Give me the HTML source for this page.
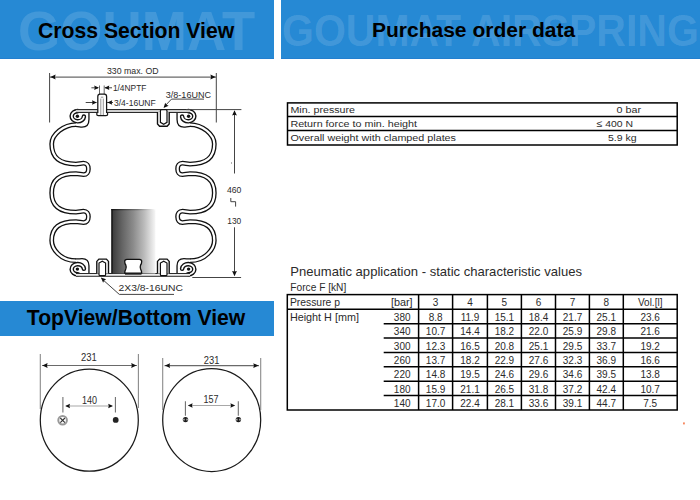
<!DOCTYPE html>
<html>
<head>
<meta charset="utf-8">
<style>
html,body{margin:0;padding:0;background:#fff;}
body{width:700px;height:500px;position:relative;overflow:hidden;font-family:"Liberation Sans",sans-serif;}
.ban{position:absolute;background:#2689d4;overflow:hidden;}
.wm{position:absolute;font-weight:bold;color:rgba(255,255,255,0.135);white-space:nowrap;line-height:1;transform-origin:0 0;}
.ttl{position:absolute;font-weight:bold;color:#000;white-space:nowrap;line-height:1;}
svg{position:absolute;left:0;top:0;}
svg text{font-family:"Liberation Sans",sans-serif;}
</style>
</head>
<body>
<div class="ban" style="left:0;top:0;width:274px;height:58px;border-bottom:1px solid #237fcf;">
  <div class="wm" style="left:18px;top:4px;font-size:54.3px;transform:scale(1,1.03);">GOUMAT</div>
  <div class="ttl" style="left:38px;top:20px;font-size:21.2px;">Cross Section View</div>
</div>
<div class="ban" style="left:281px;top:0;width:419px;height:58px;border-bottom:1px solid #237fcf;">
  <div class="wm" style="left:1px;top:9px;font-size:41px;transform:scale(1,1.09);">GOUMAT AIRSPRING</div>
  <div class="ttl" style="left:91px;top:19px;font-size:21px;">Purchase order data</div>
</div>
<div class="ban" style="left:0;top:301px;width:274px;height:35px;">
  <div class="ttl" style="left:26.8px;top:6.3px;font-size:21.15px;">TopView/Bottom View</div>
</div>
<svg width="700" height="500" viewBox="0 0 700 500">
<path d="M 76 124.6 C 63.85 124.60, 51.7 134.35, 51.7 144.10 C 51.7 157.70, 59.48 164.10, 76.0 164.10 C 79 164.00, 81 163.20, 83.5 163.20 C 86.8 163.20, 88.4 165.70, 88.4 168.90 C 88.4 172.10, 86.8 174.60, 83.5 174.60 C 81 174.60, 79 173.80, 76.0 173.70 C 59.48 173.70, 51.7 179.84, 51.7 192.88 C 51.7 205.91, 59.48 212.05, 76.0 212.05 C 79 211.95, 81 211.15, 83.5 211.15 C 86.8 211.15, 88.4 213.65, 88.4 216.85 C 88.4 220.05, 86.8 222.55, 83.5 222.55 C 81 222.55, 79 221.75, 76.0 221.65 C 59.48 221.65, 51.7 227.65, 51.7 240.40 C 51.7 248.52, 60.20 260.70, 76.0 260.70 " fill="none" stroke="#111" stroke-width="4.8"/><path d="M 76 124.6 C 63.85 124.60, 51.7 134.35, 51.7 144.10 C 51.7 157.70, 59.48 164.10, 76.0 164.10 C 79 164.00, 81 163.20, 83.5 163.20 C 86.8 163.20, 88.4 165.70, 88.4 168.90 C 88.4 172.10, 86.8 174.60, 83.5 174.60 C 81 174.60, 79 173.80, 76.0 173.70 C 59.48 173.70, 51.7 179.84, 51.7 192.88 C 51.7 205.91, 59.48 212.05, 76.0 212.05 C 79 211.95, 81 211.15, 83.5 211.15 C 86.8 211.15, 88.4 213.65, 88.4 216.85 C 88.4 220.05, 86.8 222.55, 83.5 222.55 C 81 222.55, 79 221.75, 76.0 221.65 C 59.48 221.65, 51.7 227.65, 51.7 240.40 C 51.7 248.52, 60.20 260.70, 76.0 260.70 " fill="none" stroke="#fff" stroke-width="2.2"/><path d="M 75.5 126.35 C 78.5 126.35, 80 127.2, 82 127.2 C 86.5 127.2, 88.95 124.5, 88.95 119.5 L 88.95 112" fill="none" stroke="#111" stroke-width="1.3"/><path d="M 75.5 258.95 C 78.5 258.95, 80 258.7, 82 258.7 C 86.5 258.7, 88.95 260.8, 88.95 265.8 L 88.95 274" fill="none" stroke="#111" stroke-width="1.3"/><path d="M 77.8 111.10000000000001 A 6.1 5.1 0 1 0 83.88 116.64" fill="none" stroke="#111" stroke-width="4.6" stroke-linecap="round"/><path d="M 77.8 111.10000000000001 A 6.1 5.1 0 1 0 83.88 116.64" fill="none" stroke="#fff" stroke-width="1.8" stroke-linecap="round"/><circle cx="77.4" cy="116.3" r="1.7" fill="#111"/><g transform="translate(0,385.4) scale(1,-1)"><path d="M 77.8 111.10000000000001 A 6.1 5.1 0 1 0 83.88 116.64" fill="none" stroke="#111" stroke-width="4.6" stroke-linecap="round"/><path d="M 77.8 111.10000000000001 A 6.1 5.1 0 1 0 83.88 116.64" fill="none" stroke="#fff" stroke-width="1.8" stroke-linecap="round"/><circle cx="77.4" cy="116.3" r="1.7" fill="#111"/></g>
<g transform="translate(266.0,0) scale(-1,1)"><path d="M 76 124.6 C 63.85 124.60, 51.7 134.35, 51.7 144.10 C 51.7 157.70, 59.48 164.10, 76.0 164.10 C 79 164.00, 81 163.20, 83.5 163.20 C 86.8 163.20, 88.4 165.70, 88.4 168.90 C 88.4 172.10, 86.8 174.60, 83.5 174.60 C 81 174.60, 79 173.80, 76.0 173.70 C 59.48 173.70, 51.7 179.84, 51.7 192.88 C 51.7 205.91, 59.48 212.05, 76.0 212.05 C 79 211.95, 81 211.15, 83.5 211.15 C 86.8 211.15, 88.4 213.65, 88.4 216.85 C 88.4 220.05, 86.8 222.55, 83.5 222.55 C 81 222.55, 79 221.75, 76.0 221.65 C 59.48 221.65, 51.7 227.65, 51.7 240.40 C 51.7 248.52, 60.20 260.70, 76.0 260.70 " fill="none" stroke="#111" stroke-width="4.8"/><path d="M 76 124.6 C 63.85 124.60, 51.7 134.35, 51.7 144.10 C 51.7 157.70, 59.48 164.10, 76.0 164.10 C 79 164.00, 81 163.20, 83.5 163.20 C 86.8 163.20, 88.4 165.70, 88.4 168.90 C 88.4 172.10, 86.8 174.60, 83.5 174.60 C 81 174.60, 79 173.80, 76.0 173.70 C 59.48 173.70, 51.7 179.84, 51.7 192.88 C 51.7 205.91, 59.48 212.05, 76.0 212.05 C 79 211.95, 81 211.15, 83.5 211.15 C 86.8 211.15, 88.4 213.65, 88.4 216.85 C 88.4 220.05, 86.8 222.55, 83.5 222.55 C 81 222.55, 79 221.75, 76.0 221.65 C 59.48 221.65, 51.7 227.65, 51.7 240.40 C 51.7 248.52, 60.20 260.70, 76.0 260.70 " fill="none" stroke="#fff" stroke-width="2.2"/><path d="M 75.5 126.35 C 78.5 126.35, 80 127.2, 82 127.2 C 86.5 127.2, 88.95 124.5, 88.95 119.5 L 88.95 112" fill="none" stroke="#111" stroke-width="1.3"/><path d="M 75.5 258.95 C 78.5 258.95, 80 258.7, 82 258.7 C 86.5 258.7, 88.95 260.8, 88.95 265.8 L 88.95 274" fill="none" stroke="#111" stroke-width="1.3"/><path d="M 77.8 111.10000000000001 A 6.1 5.1 0 1 0 83.88 116.64" fill="none" stroke="#111" stroke-width="4.6" stroke-linecap="round"/><path d="M 77.8 111.10000000000001 A 6.1 5.1 0 1 0 83.88 116.64" fill="none" stroke="#fff" stroke-width="1.8" stroke-linecap="round"/><circle cx="77.4" cy="116.3" r="1.7" fill="#111"/><g transform="translate(0,385.4) scale(1,-1)"><path d="M 77.8 111.10000000000001 A 6.1 5.1 0 1 0 83.88 116.64" fill="none" stroke="#111" stroke-width="4.6" stroke-linecap="round"/><path d="M 77.8 111.10000000000001 A 6.1 5.1 0 1 0 83.88 116.64" fill="none" stroke="#fff" stroke-width="1.8" stroke-linecap="round"/><circle cx="77.4" cy="116.3" r="1.7" fill="#111"/></g></g>
<rect x="76" y="109.5" width="114" height="3.0" fill="#cfcfcf"/><line x1="76" y1="109.5" x2="190" y2="109.5" stroke="#2a2a2a" stroke-width="1"/><line x1="76" y1="112.5" x2="190" y2="112.5" stroke="#2a2a2a" stroke-width="1"/>
<rect x="76" y="273.5" width="114" height="2.8000000000000114" fill="#ececec"/><line x1="76" y1="273.5" x2="190" y2="273.5" stroke="#2a2a2a" stroke-width="1"/><line x1="76" y1="276.3" x2="190" y2="276.3" stroke="#2a2a2a" stroke-width="1"/>
<defs><linearGradient id="pg" x1="0" x2="1" y1="0" y2="0"><stop offset="0" stop-color="#383838"/><stop offset="0.25" stop-color="#656565"/><stop offset="0.5" stop-color="#8c8c8c"/><stop offset="0.75" stop-color="#bcbcbc"/><stop offset="1" stop-color="#f6f6f6"/></linearGradient><linearGradient id="pt" x1="0" x2="1" y1="0" y2="0"><stop offset="0" stop-color="#111"/><stop offset="0.6" stop-color="#777"/><stop offset="1" stop-color="#fff"/></linearGradient></defs>
<rect x="111.4" y="209" width="44" height="64.5" fill="url(#pg)"/>
<rect x="111.4" y="209" width="44" height="1.3" fill="url(#pt)"/>
<rect x="111.4" y="209" width="1.3" height="64.5" fill="#151515"/>
<path d="M 127 259.3 L 139.5 259.3 Q 141.7 259.3 141.7 261.5 Q 141.7 263.5 140.6 265 Q 139.8 267 140.6 269 Q 141.7 271 141.7 273.2 L 124.7 273.2 Q 124.7 271 125.8 269 Q 126.6 267 125.8 265 Q 124.7 263.5 124.7 261.5 Q 124.7 259.3 127 259.3 Z" fill="#fff" stroke="#111" stroke-width="1.3"/>
<line x1="125" y1="274" x2="141.5" y2="274" stroke="#111" stroke-width="1.3"/>
<path d="M 157.5 112 L 157.5 124 L 159.6 126.3 L 167.1 126.3 L 169.2 124 L 169.2 112" fill="#fff" stroke="#111" stroke-width="1.4"/><path d="M 160.4 111 Q 160.4 109.7 161.6 109.7 L 165.8 109.7 Q 167 109.7 167 111 L 167 122.3 L 163.7 124.2 L 160.4 122.3 Z" fill="#fff" stroke="#111" stroke-width="1.2"/>
<g transform="translate(0,385.4) scale(1,-1)"><path d="M 157.5 112 L 157.5 124 L 159.6 126.3 L 167.1 126.3 L 169.2 124 L 169.2 112" fill="#fff" stroke="#111" stroke-width="1.4"/><path d="M 160.4 111 Q 160.4 109.7 161.6 109.7 L 165.8 109.7 Q 167 109.7 167 111 L 167 122.3 L 163.7 124.2 L 160.4 122.3 Z" fill="#fff" stroke="#111" stroke-width="1.2"/></g>
<g transform="translate(266.0,0) scale(-1,1)"><g transform="translate(0,385.4) scale(1,-1)"><path d="M 157.5 112 L 157.5 124 L 159.6 126.3 L 167.1 126.3 L 169.2 124 L 169.2 112" fill="#fff" stroke="#111" stroke-width="1.4"/><path d="M 160.4 111 Q 160.4 109.7 161.6 109.7 L 165.8 109.7 Q 167 109.7 167 111 L 167 122.3 L 163.7 124.2 L 160.4 122.3 Z" fill="#fff" stroke="#111" stroke-width="1.2"/></g></g>
<line x1="99.5" y1="85.5" x2="99.5" y2="95" stroke="#666" stroke-width="1"/>
<line x1="104.2" y1="85.5" x2="104.2" y2="95" stroke="#666" stroke-width="1"/>
<path d="M 97.8 112.5 L 97.8 96.5 Q 97.8 94.2 100 94.2 L 104.4 94.2 Q 106.6 94.2 106.6 96.5 L 106.6 112.5 Q 107.7 112.8 107.7 114 Q 107.7 115.6 106 115.6 L 98.4 115.6 Q 96.7 115.6 96.7 114 Q 96.7 112.8 97.8 112.5 Z" fill="#fff" stroke="#151515" stroke-width="1.25"/>
<path d="M 100.8 115 L 100.8 98.6 M 103.3 115 L 103.3 98.6 M 100.8 97.2 L 103.3 97.2" fill="none" stroke="#888" stroke-width="0.9"/>
<g stroke="#444" stroke-width="1" fill="none"><line x1="49.6" y1="73" x2="49.6" y2="122.5"/><line x1="216.3" y1="73" x2="216.3" y2="122.5"/><line x1="50" y1="77.1" x2="216" y2="77.1"/><line x1="186" y1="109.6" x2="241.4" y2="109.6"/><line x1="192.3" y1="277.5" x2="241.1" y2="277.5"/><line x1="234.5" y1="111" x2="234.5" y2="173.5"/><line x1="234.5" y1="227.3" x2="234.5" y2="275"/><path d="M 230.8 198 L 230.8 201.7 L 235.6 201.7 L 235.6 206.6"/><line x1="91.4" y1="87.8" x2="98" y2="87.8"/><line x1="105" y1="87.8" x2="112" y2="87.8"/><line x1="85.7" y1="102.5" x2="96.5" y2="102.5"/><line x1="107" y1="102.5" x2="113" y2="102.5"/><path d="M 204 99.1 L 171.5 99.1 L 164 107"/><path d="M 174 294.4 L 119.3 294.4 L 101.5 278.5"/></g><path d="M 50.40 77.00 L 55.60 74.60 L 54.98 77.00 L 55.60 79.40 Z" fill="#111"/><path d="M 215.60 77.00 L 210.40 79.40 L 211.02 77.00 L 210.40 74.60 Z" fill="#111"/><path d="M 234.50 110.20 L 236.90 115.40 L 234.50 114.78 L 232.10 115.40 Z" fill="#111"/><path d="M 234.50 276.20 L 232.10 271.00 L 234.50 271.62 L 236.90 271.00 Z" fill="#111"/><path d="M 99.00 87.80 L 94.20 90.00 L 94.78 87.80 L 94.20 85.60 Z" fill="#111"/><path d="M 104.50 87.80 L 109.30 85.60 L 108.72 87.80 L 109.30 90.00 Z" fill="#111"/><path d="M 96.80 102.50 L 92.00 104.70 L 92.58 102.50 L 92.00 100.30 Z" fill="#111"/><path d="M 107.40 102.50 L 112.20 100.30 L 111.62 102.50 L 112.20 104.70 Z" fill="#111"/><path d="M 163.60 108.00 L 165.18 102.73 L 166.50 104.70 L 168.62 105.77 Z" fill="#111"/><path d="M 100.90 277.60 L 106.17 279.18 L 104.20 280.50 L 103.13 282.63 Z" fill="#111"/>
<text x="106.9" y="74.3" font-size="9" textLength="51.7" lengthAdjust="spacingAndGlyphs" fill="#2b2b2b">330 max. OD</text>
<text x="112.9" y="91.0" font-size="9" textLength="33.5" lengthAdjust="spacingAndGlyphs" fill="#2b2b2b">1/4NPTF</text>
<text x="114.0" y="106.0" font-size="9" textLength="41.7" lengthAdjust="spacingAndGlyphs" fill="#2b2b2b">3/4-16UNF</text>
<text x="165.8" y="97.5" font-size="9" textLength="45.2" lengthAdjust="spacingAndGlyphs" fill="#2b2b2b">3/8-16UNC</text>
<text x="118.6" y="291.1" font-size="9.6" textLength="64.3" lengthAdjust="spacingAndGlyphs" fill="#2b2b2b">2X3/8-16UNC</text>
<text x="227.0" y="193.2" font-size="9.8" textLength="14.4" lengthAdjust="spacingAndGlyphs" fill="#2b2b2b">460</text>
<text x="227.3" y="224.0" font-size="9.8" textLength="14.0" lengthAdjust="spacingAndGlyphs" fill="#2b2b2b">130</text>
<rect x="231" y="162" width="1" height="2" fill="#b0b0b0"/>
<ellipse cx="89.3" cy="420.2" rx="49" ry="51" fill="none" stroke="#1a1a1a" stroke-width="1.25"/>
<ellipse cx="211.7" cy="420.0" rx="49" ry="51.5" fill="none" stroke="#1a1a1a" stroke-width="1.25"/>
<g stroke="#8a8a8a" stroke-width="1.1" fill="none">
<line x1="40.3" y1="354" x2="40.3" y2="409"/>
<line x1="138.4" y1="354" x2="138.4" y2="408"/>
<line x1="162.7" y1="358" x2="162.7" y2="410"/>
<line x1="260.7" y1="358" x2="260.7" y2="410"/>
</g>
<g stroke="#6a6a6a" stroke-width="1.05" fill="none">
<line x1="42" y1="365.5" x2="137" y2="365.5"/>
<line x1="164.5" y1="365.6" x2="259" y2="365.6"/>
<line x1="62.9" y1="397" x2="62.9" y2="412.4"/>
<line x1="115.4" y1="397" x2="115.4" y2="412.4"/>
<line x1="185.4" y1="401.3" x2="185.4" y2="415.7"/>
<line x1="238.3" y1="401.3" x2="238.3" y2="415.7"/>
</g>
<g stroke="#a8a8a8" stroke-width="1.2" fill="none">
<line x1="66" y1="406.0" x2="112" y2="406.0"/>
<line x1="189" y1="405.5" x2="234" y2="405.5"/>
</g>
<path d="M 42.40 365.50 L 47.60 363.10 L 46.98 365.50 L 47.60 367.90 Z" fill="#111"/>
<path d="M 136.40 365.50 L 131.20 367.90 L 131.82 365.50 L 131.20 363.10 Z" fill="#111"/>
<path d="M 164.90 365.60 L 170.10 363.20 L 169.48 365.60 L 170.10 368.00 Z" fill="#111"/>
<path d="M 258.50 365.60 L 253.30 368.00 L 253.92 365.60 L 253.30 363.20 Z" fill="#111"/>
<path d="M 65.20 406.00 L 70.00 403.80 L 69.42 406.00 L 70.00 408.20 Z" fill="#111"/>
<path d="M 113.00 406.00 L 108.20 408.20 L 108.78 406.00 L 108.20 403.80 Z" fill="#111"/>
<path d="M 187.80 405.50 L 192.60 403.30 L 192.02 405.50 L 192.60 407.70 Z" fill="#111"/>
<path d="M 235.20 405.50 L 230.40 407.70 L 230.98 405.50 L 230.40 403.30 Z" fill="#111"/>
<text x="81.0" y="361.4" font-size="10.3" textLength="15.8" lengthAdjust="spacingAndGlyphs" fill="#2b2b2b">231</text>
<text x="203.8" y="364.2" font-size="10.3" textLength="15.6" lengthAdjust="spacingAndGlyphs" fill="#2b2b2b">231</text>
<text x="82.0" y="403.5" font-size="10.3" textLength="15.0" lengthAdjust="spacingAndGlyphs" fill="#2b2b2b">140</text>
<text x="203.4" y="402.8" font-size="10.3" textLength="15.0" lengthAdjust="spacingAndGlyphs" fill="#2b2b2b">157</text>
<circle cx="62.6" cy="420.3" r="4.3" fill="#fff" stroke="#999" stroke-width="2"/>
<path d="M 60.3 418.0 L 64.9 422.6 M 64.9 418.0 L 60.3 422.6" stroke="#333" stroke-width="1.1"/>
<circle cx="115.7" cy="419.9" r="2.9" fill="#222"/>
<circle cx="185.5" cy="419.6" r="2.7" fill="#1a1a1a"/><rect x="183.3" y="418.7" width="1.3" height="1.8" fill="#ccc"/><rect x="186.4" y="418.7" width="1.3" height="1.8" fill="#ccc"/>
<circle cx="238.4" cy="419.6" r="2.7" fill="#1a1a1a"/><rect x="236.2" y="418.7" width="1.3" height="1.8" fill="#ccc"/><rect x="239.3" y="418.7" width="1.3" height="1.8" fill="#ccc"/>
<rect x="683.3" y="422.4" width="1.3" height="2" fill="#f2561d"/>
<g stroke="#000" stroke-width="1.5" fill="none">
<rect x="287.5" y="102.9" width="389.7" height="42.1"/>
<line x1="287.5" y1="116.4" x2="677.2" y2="116.4"/>
<line x1="287.5" y1="130.6" x2="677.2" y2="130.6"/>
</g>
<text x="290.4" y="112.9" font-size="9.7" textLength="64.6" lengthAdjust="spacingAndGlyphs" fill="#2b2b2b">Min. pressure</text>
<text x="290.4" y="127.0" font-size="9.7" textLength="126.6" lengthAdjust="spacingAndGlyphs" fill="#2b2b2b">Return force to min. height</text>
<text x="290.4" y="141.2" font-size="9.7" textLength="165.6" lengthAdjust="spacingAndGlyphs" fill="#2b2b2b">Overall weight with clamped plates</text>
<text x="616.6" y="112.9" font-size="9.7" textLength="24.4" lengthAdjust="spacingAndGlyphs" fill="#2b2b2b">0 bar</text>
<text x="596.6" y="127.0" font-size="9.7" textLength="36.4" lengthAdjust="spacingAndGlyphs" fill="#2b2b2b">&#8804; 400 N</text>
<text x="608.0" y="141.2" font-size="9.7" textLength="28.6" lengthAdjust="spacingAndGlyphs" fill="#2b2b2b">5.9 kg</text>
<text x="290.3" y="276.0" font-size="13" textLength="291.7" lengthAdjust="spacingAndGlyphs" fill="#2b2b2b">Pneumatic application - static characteristic values</text>
<text x="290.3" y="291.3" font-size="10.6" textLength="56" lengthAdjust="spacingAndGlyphs" fill="#2b2b2b">Force F [kN]</text>
<g stroke="#000" stroke-width="1.5" fill="none">
<rect x="287.3" y="294.6" width="389.90000000000003" height="115.39999999999998"/>
<line x1="287.3" y1="309.2" x2="677.2" y2="309.2"/>
<line x1="383.7" y1="323.7" x2="677.2" y2="323.7"/>
<line x1="383.7" y1="338.1" x2="677.2" y2="338.1"/>
<line x1="383.7" y1="352.4" x2="677.2" y2="352.4"/>
<line x1="383.7" y1="366.8" x2="677.2" y2="366.8"/>
<line x1="383.7" y1="381.3" x2="677.2" y2="381.3"/>
<line x1="383.7" y1="395.5" x2="677.2" y2="395.5"/>
<line x1="418.6" y1="294.6" x2="418.6" y2="410.0"/>
<line x1="452.6" y1="294.6" x2="452.6" y2="410.0"/>
<line x1="487.4" y1="294.6" x2="487.4" y2="410.0"/>
<line x1="521.4" y1="294.6" x2="521.4" y2="410.0"/>
<line x1="555.5" y1="294.6" x2="555.5" y2="410.0"/>
<line x1="589.4" y1="294.6" x2="589.4" y2="410.0"/>
<line x1="623.3" y1="294.6" x2="623.3" y2="410.0"/>
</g>
<text x="289.9" y="305.9" font-size="10.3" textLength="50.1" lengthAdjust="spacingAndGlyphs" fill="#2b2b2b">Pressure p</text>
<text x="390.9" y="305.9" font-size="10.3" textLength="21.7" lengthAdjust="spacingAndGlyphs" fill="#2b2b2b">[bar]</text>
<text x="435.6" y="306.3" font-size="10" text-anchor="middle" fill="#2b2b2b">3</text>
<text x="470.0" y="306.3" font-size="10" text-anchor="middle" fill="#2b2b2b">4</text>
<text x="504.4" y="306.3" font-size="10" text-anchor="middle" fill="#2b2b2b">5</text>
<text x="538.5" y="306.3" font-size="10" text-anchor="middle" fill="#2b2b2b">6</text>
<text x="572.5" y="306.3" font-size="10" text-anchor="middle" fill="#2b2b2b">7</text>
<text x="606.3" y="306.3" font-size="10" text-anchor="middle" fill="#2b2b2b">8</text>
<text x="650.2" y="306.3" font-size="10" text-anchor="middle" fill="#2b2b2b">Vol.[l]</text>
<text x="289.9" y="321.0" font-size="10.3" textLength="69" lengthAdjust="spacingAndGlyphs" fill="#2b2b2b">Height H [mm]</text>
<text x="402.2" y="320.8" font-size="10" text-anchor="middle" fill="#2b2b2b">380</text>
<text x="435.6" y="320.8" font-size="10" text-anchor="middle" fill="#2b2b2b">8.8</text>
<text x="470.0" y="320.8" font-size="10" text-anchor="middle" fill="#2b2b2b">11.9</text>
<text x="504.4" y="320.8" font-size="10" text-anchor="middle" fill="#2b2b2b">15.1</text>
<text x="538.5" y="320.8" font-size="10" text-anchor="middle" fill="#2b2b2b">18.4</text>
<text x="572.5" y="320.8" font-size="10" text-anchor="middle" fill="#2b2b2b">21.7</text>
<text x="606.3" y="320.8" font-size="10" text-anchor="middle" fill="#2b2b2b">25.1</text>
<text x="650.2" y="320.8" font-size="10" text-anchor="middle" fill="#2b2b2b">23.6</text>
<text x="402.2" y="335.3" font-size="10" text-anchor="middle" fill="#2b2b2b">340</text>
<text x="435.6" y="335.3" font-size="10" text-anchor="middle" fill="#2b2b2b">10.7</text>
<text x="470.0" y="335.3" font-size="10" text-anchor="middle" fill="#2b2b2b">14.4</text>
<text x="504.4" y="335.3" font-size="10" text-anchor="middle" fill="#2b2b2b">18.2</text>
<text x="538.5" y="335.3" font-size="10" text-anchor="middle" fill="#2b2b2b">22.0</text>
<text x="572.5" y="335.3" font-size="10" text-anchor="middle" fill="#2b2b2b">25.9</text>
<text x="606.3" y="335.3" font-size="10" text-anchor="middle" fill="#2b2b2b">29.8</text>
<text x="650.2" y="335.3" font-size="10" text-anchor="middle" fill="#2b2b2b">21.6</text>
<text x="402.2" y="349.7" font-size="10" text-anchor="middle" fill="#2b2b2b">300</text>
<text x="435.6" y="349.7" font-size="10" text-anchor="middle" fill="#2b2b2b">12.3</text>
<text x="470.0" y="349.7" font-size="10" text-anchor="middle" fill="#2b2b2b">16.5</text>
<text x="504.4" y="349.7" font-size="10" text-anchor="middle" fill="#2b2b2b">20.8</text>
<text x="538.5" y="349.7" font-size="10" text-anchor="middle" fill="#2b2b2b">25.1</text>
<text x="572.5" y="349.7" font-size="10" text-anchor="middle" fill="#2b2b2b">29.5</text>
<text x="606.3" y="349.7" font-size="10" text-anchor="middle" fill="#2b2b2b">33.7</text>
<text x="650.2" y="349.7" font-size="10" text-anchor="middle" fill="#2b2b2b">19.2</text>
<text x="402.2" y="364.0" font-size="10" text-anchor="middle" fill="#2b2b2b">260</text>
<text x="435.6" y="364.0" font-size="10" text-anchor="middle" fill="#2b2b2b">13.7</text>
<text x="470.0" y="364.0" font-size="10" text-anchor="middle" fill="#2b2b2b">18.2</text>
<text x="504.4" y="364.0" font-size="10" text-anchor="middle" fill="#2b2b2b">22.9</text>
<text x="538.5" y="364.0" font-size="10" text-anchor="middle" fill="#2b2b2b">27.6</text>
<text x="572.5" y="364.0" font-size="10" text-anchor="middle" fill="#2b2b2b">32.3</text>
<text x="606.3" y="364.0" font-size="10" text-anchor="middle" fill="#2b2b2b">36.9</text>
<text x="650.2" y="364.0" font-size="10" text-anchor="middle" fill="#2b2b2b">16.6</text>
<text x="402.2" y="378.4" font-size="10" text-anchor="middle" fill="#2b2b2b">220</text>
<text x="435.6" y="378.4" font-size="10" text-anchor="middle" fill="#2b2b2b">14.8</text>
<text x="470.0" y="378.4" font-size="10" text-anchor="middle" fill="#2b2b2b">19.5</text>
<text x="504.4" y="378.4" font-size="10" text-anchor="middle" fill="#2b2b2b">24.6</text>
<text x="538.5" y="378.4" font-size="10" text-anchor="middle" fill="#2b2b2b">29.6</text>
<text x="572.5" y="378.4" font-size="10" text-anchor="middle" fill="#2b2b2b">34.6</text>
<text x="606.3" y="378.4" font-size="10" text-anchor="middle" fill="#2b2b2b">39.5</text>
<text x="650.2" y="378.4" font-size="10" text-anchor="middle" fill="#2b2b2b">13.8</text>
<text x="402.2" y="392.9" font-size="10" text-anchor="middle" fill="#2b2b2b">180</text>
<text x="435.6" y="392.9" font-size="10" text-anchor="middle" fill="#2b2b2b">15.9</text>
<text x="470.0" y="392.9" font-size="10" text-anchor="middle" fill="#2b2b2b">21.1</text>
<text x="504.4" y="392.9" font-size="10" text-anchor="middle" fill="#2b2b2b">26.5</text>
<text x="538.5" y="392.9" font-size="10" text-anchor="middle" fill="#2b2b2b">31.8</text>
<text x="572.5" y="392.9" font-size="10" text-anchor="middle" fill="#2b2b2b">37.2</text>
<text x="606.3" y="392.9" font-size="10" text-anchor="middle" fill="#2b2b2b">42.4</text>
<text x="650.2" y="392.9" font-size="10" text-anchor="middle" fill="#2b2b2b">10.7</text>
<text x="402.2" y="407.1" font-size="10" text-anchor="middle" fill="#2b2b2b">140</text>
<text x="435.6" y="407.1" font-size="10" text-anchor="middle" fill="#2b2b2b">17.0</text>
<text x="470.0" y="407.1" font-size="10" text-anchor="middle" fill="#2b2b2b">22.4</text>
<text x="504.4" y="407.1" font-size="10" text-anchor="middle" fill="#2b2b2b">28.1</text>
<text x="538.5" y="407.1" font-size="10" text-anchor="middle" fill="#2b2b2b">33.6</text>
<text x="572.5" y="407.1" font-size="10" text-anchor="middle" fill="#2b2b2b">39.1</text>
<text x="606.3" y="407.1" font-size="10" text-anchor="middle" fill="#2b2b2b">44.7</text>
<text x="650.2" y="407.1" font-size="10" text-anchor="middle" fill="#2b2b2b">7.5</text>
</svg>
</body>
</html>
